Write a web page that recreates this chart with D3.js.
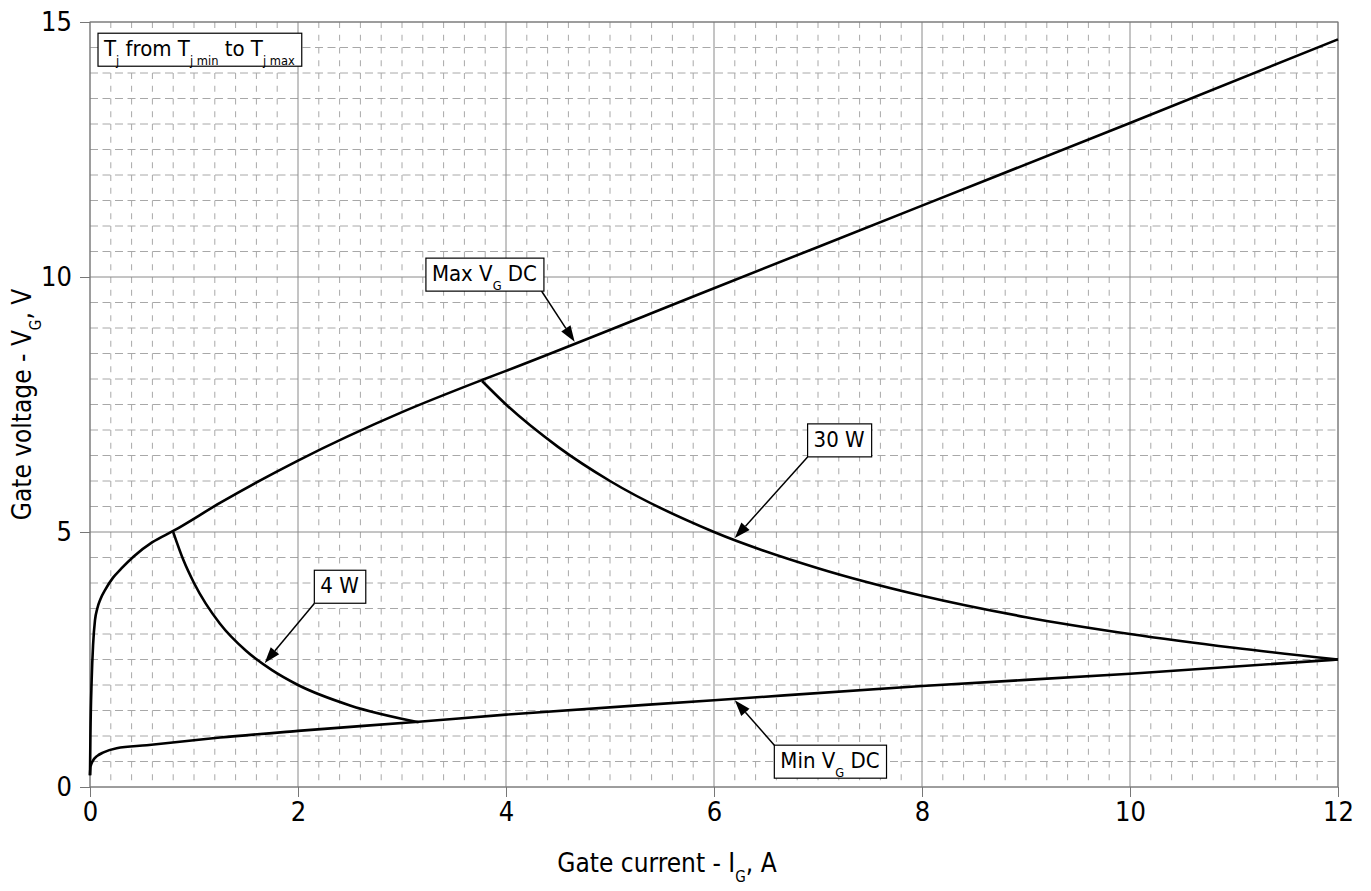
<!DOCTYPE html>
<html>
<head>
<meta charset="utf-8">
<script src="https://cdn.jsdelivr.net/npm/d3@7"></script>
<style>
  body { margin: 0; background: #fff; }
  svg { display: block; font-family: "DejaVu Sans Condensed", "DejaVu Sans", sans-serif; }
</style>
</head>
<body>
<svg id="chart" width="1371" height="891"></svg>
<script>
// curves: [gate current A, gate voltage V]
const maxVg = [
  [0, 0.23], [0.004, 1.0], [0.016, 2.1], [0.03, 2.8], [0.048, 3.27], [0.07, 3.5],
  [0.1, 3.68], [0.15, 3.88], [0.22, 4.1], [0.3, 4.28], [0.42, 4.52], [0.6, 4.8],
  [0.8, 5.02], [1.25, 5.57], [2, 6.4], [3, 7.35], [3.77, 7.98], [4, 8.16],
  [6, 9.78], [8, 11.4], [10, 13.02], [12, 14.66]
];
const minVg = [
  [0, 0.23], [0.005, 0.4], [0.03, 0.52], [0.07, 0.61], [0.13, 0.68], [0.256, 0.76],
  [0.545, 0.82], [1.25, 0.97], [2, 1.1], [3.16, 1.28], [4, 1.42], [6, 1.7],
  [8, 1.98], [10, 2.22], [12, 2.5]
];
const power4W = [
  [0.8, 5.0], [0.9, 4.44], [1.0, 4.0], [1.25, 3.2], [1.5, 2.67], [1.75, 2.29],
  [2, 2.0], [2.5, 1.6], [3.16, 1.27]
];
const power30W = [
  [3.77, 7.96], [4, 7.5], [4.5, 6.67], [5, 6.0], [6, 5.0], [7, 4.29], [8, 3.75],
  [9, 3.33], [10, 3.0], [11, 2.73], [12, 2.5]
];

const xTicks = [0, 2, 4, 6, 8, 10, 12];
const yTicks = [0, 5, 10, 15];

// callouts: box top-left, arrow start, arrow tip (data coords)
const callouts = [
  { parts: [["Max V", 0], ["G", 1], [" DC", 0]], box: [3.23, 10.37], from: [4.34, 9.73], to: [4.66, 8.73] },
  { parts: [["30 W", 0]], box: [6.9, 7.12], from: [6.9, 6.47], to: [6.2, 4.88] },
  { parts: [["4 W", 0]], box: [2.157, 4.25], from: [2.157, 3.6], to: [1.68, 2.43] },
  { parts: [["Min V", 0], ["G", 1], [" DC", 0]], box: [6.58, 0.82], from: [6.58, 0.82], to: [6.2, 1.7] },
  { parts: [["T", 0], ["j", 1], [" from T", 0], ["j min", 1], [" to T", 0], ["j max", 1]], box: [0.077, 14.78] }
];

const svg = d3.select("#chart");
const x = d3.scaleLinear().domain([0, 12]).range([90, 1338]);
const y = d3.scaleLinear().domain([0, 15]).range([787, 22]);

const grid = svg.append("g");
// minor grid
grid.selectAll(".vminor")
  .data(d3.range(0, 60).map(i => i * 0.2).filter((v, i) => i % 10 !== 0))
  .enter().append("line")
  .attr("x1", d => x(d)).attr("x2", d => x(d))
  .attr("y1", y(15)).attr("y2", y(0))
  .attr("stroke", "#a8a8a8").attr("stroke-width", 1)
  .attr("stroke-dasharray", "6,6.75");
grid.selectAll(".hminor")
  .data(d3.range(0, 30).map(i => i * 0.5).filter((v, i) => i % 10 !== 0))
  .enter().append("line")
  .attr("x1", x(0)).attr("x2", x(12))
  .attr("y1", d => y(d)).attr("y2", d => y(d))
  .attr("stroke", "#a8a8a8").attr("stroke-width", 1)
  .attr("stroke-dasharray", "8,4.5");
// major grid
grid.selectAll(".vmajor").data(xTicks).enter().append("line")
  .attr("x1", d => x(d)).attr("x2", d => x(d))
  .attr("y1", y(15)).attr("y2", y(0))
  .attr("stroke", "#8a8a8a").attr("stroke-width", 1);
grid.selectAll(".hmajor").data(yTicks).enter().append("line")
  .attr("x1", x(0)).attr("x2", x(12))
  .attr("y1", d => y(d)).attr("y2", d => y(d))
  .attr("stroke", "#8a8a8a").attr("stroke-width", 1);

// axes
const xAxis = svg.append("g").attr("transform", `translate(0,${y(0)})`)
  .call(d3.axisBottom(x).tickValues(xTicks).tickSize(10).tickPadding(5).tickFormat(d3.format("d")));
const yAxis = svg.append("g").attr("transform", `translate(${x(0)},0)`)
  .call(d3.axisLeft(y).tickValues(yTicks).tickSize(10).tickPadding(8).tickFormat(d3.format("d")));
[xAxis, yAxis].forEach(a => {
  a.select(".domain").remove();
  a.selectAll("line").attr("stroke", "#777");
  a.selectAll("text").attr("font-size", 27).attr("fill", "#000")
    .attr("font-family", "DejaVu Sans Condensed, DejaVu Sans, sans-serif");
});

svg.append("rect")
  .attr("x", x(0)).attr("y", y(15))
  .attr("width", x(12) - x(0)).attr("height", y(0) - y(15))
  .attr("fill", "none").attr("stroke", "#777").attr("stroke-width", 1);

// curves
const line = d3.line().x(d => x(d[0])).y(d => y(d[1])).curve(d3.curveMonotoneX);
[maxVg, minVg, power4W, power30W].forEach(s => {
  svg.append("path").datum(s).attr("d", line)
    .attr("fill", "none").attr("stroke", "#000").attr("stroke-width", 2.6)
    .attr("stroke-linejoin", "round");
});

// rich text helper (subscripts)
function richText(sel, parts, size) {
  parts.forEach(([t, sub], i) => {
    const ts = sel.append("tspan").text(t);
    if (sub) ts.attr("font-size", size * 0.58).attr("dy", size * 0.4);
    else if (i > 0 && parts[i - 1][1]) ts.attr("font-size", size).attr("dy", -size * 0.4);
  });
}

// callouts
callouts.forEach(c => {
  const g = svg.append("g");
  if (c.to) {
    const x1 = x(c.from[0]), y1 = y(c.from[1]), x2 = x(c.to[0]), y2 = y(c.to[1]);
    const a = Math.atan2(y2 - y1, x2 - x1), L = 16, W = 5.5;
    const bx = x2 - L * Math.cos(a), by = y2 - L * Math.sin(a);
    g.append("line").attr("x1", x1).attr("y1", y1).attr("x2", bx).attr("y2", by)
      .attr("stroke", "#000").attr("stroke-width", 1.5);
    g.append("path")
      .attr("d", `M${x2},${y2}L${bx + W * Math.sin(a)},${by - W * Math.cos(a)}L${bx - W * Math.sin(a)},${by + W * Math.cos(a)}Z`)
      .attr("fill", "#000");
  }
  const bx0 = x(c.box[0]), by0 = y(c.box[1]);
  const rect = g.append("rect").attr("x", bx0).attr("y", by0).attr("height", 33)
    .attr("fill", "#fff").attr("stroke", "#000").attr("stroke-width", 1.2);
  const txt = g.append("text").attr("x", bx0 + 6).attr("y", by0 + 23)
    .attr("font-size", 22).attr("fill", "#000");
  richText(txt, c.parts, 22);
  const w = txt.node().getComputedTextLength();
  rect.attr("width", w + 13);
});

// axis titles
const xt = svg.append("text").attr("text-anchor", "middle")
  .attr("x", 667).attr("y", 872).attr("font-size", 26).attr("fill", "#000");
richText(xt, [["Gate current - I", 0], ["G", 1], [", A", 0]], 26);

const yt = svg.append("text").attr("text-anchor", "middle")
  .attr("transform", `translate(31,${(y(0) + y(15)) / 2}) rotate(-90)`)
  .attr("font-size", 26).attr("fill", "#000");
richText(yt, [["Gate voltage - V", 0], ["G", 1], [", V", 0]], 26);
</script>
</body>
</html>
